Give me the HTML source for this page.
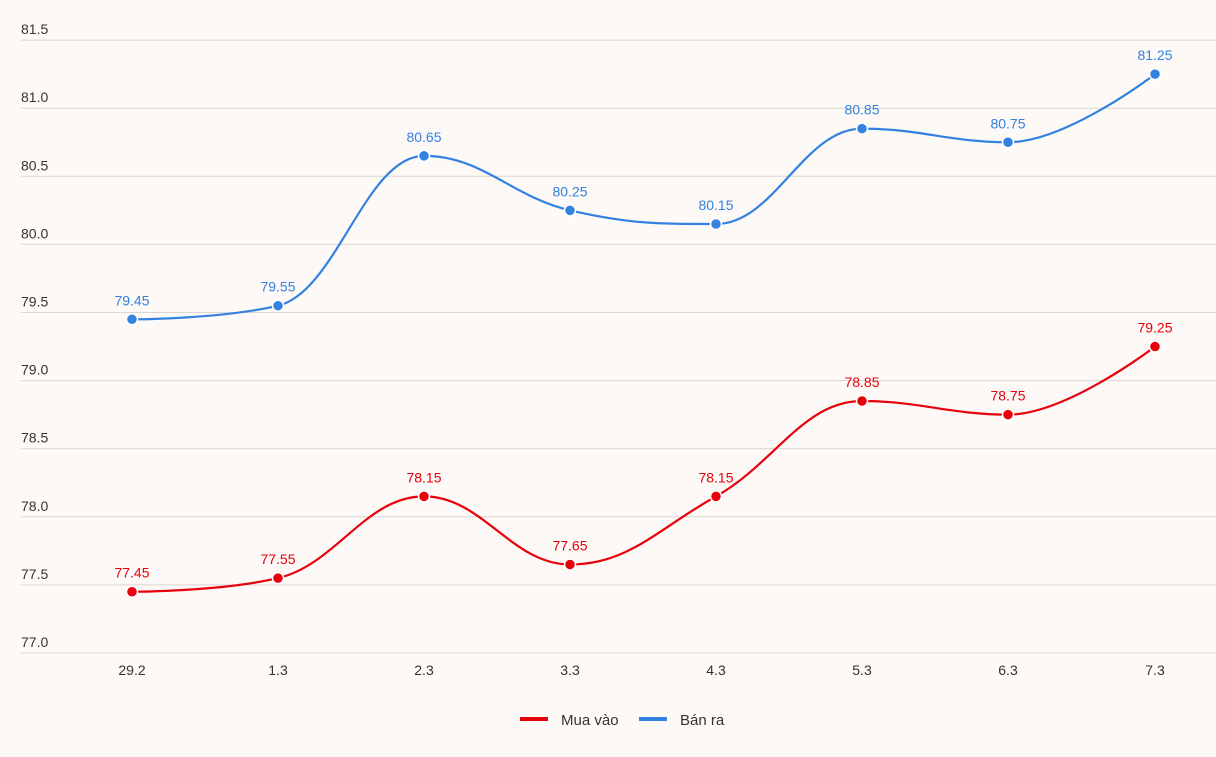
<!DOCTYPE html><html><head><meta charset="utf-8"><style>
body{margin:0;background:#fdf9f6;}
svg{display:block;font-family:"Liberation Sans",sans-serif;}
</style></head><body>
<svg id="s" width="1216" height="757" xmlns="http://www.w3.org/2000/svg">
<rect width="1216" height="757" fill="#fdf9f6"/>
<g id="grid"></g>
<g font-size="14" fill="#333" text-anchor="middle">
<text x="132" y="675">29.2</text><text x="278" y="675">1.3</text><text x="424" y="675">2.3</text><text x="570" y="675">3.3</text><text x="716" y="675">4.3</text><text x="862" y="675">5.3</text><text x="1008" y="675">6.3</text><text x="1155" y="675">7.3</text>
</g>
<g id="series"></g>
<rect x="520" y="717" width="28" height="4" fill="#e8000b"/>
<text x="561" y="725" font-size="15" fill="#333">Mua vào</text>
<rect x="639" y="717" width="28" height="4" fill="#3381e0"/>
<text x="680" y="725" font-size="15" fill="#333">Bán ra</text>
</svg>
<script>
var NS="http://www.w3.org/2000/svg",g=document.getElementById('grid'),sr=document.getElementById('series');
function Y(v){return 653-(v-77)*136.2;}
function el(p,t,a,txt){var e=document.createElementNS(NS,t);for(var k in a)e.setAttribute(k,a[k]);if(txt)e.textContent=txt;p.appendChild(e);return e;}
for(var i=0;i<10;i++){var v=77+i*0.5,y=Y(v);el(g,'line',{x1:21,x2:1216,y1:y,y2:y,stroke:'#d9d6d3','stroke-width':1});
el(g,'text',{x:21,y:y-6,'font-size':14,fill:'#333'},v.toFixed(1));}
var X=[132,278,424,570,716,862,1008,1155];
function path(vals){var P=vals.map(function(v,i){return[X[i],Y(v)]});var d='M'+P[0][0]+' '+P[0][1];
var ctrl=[];var s=1.5,den=2.5;
for(var i=0;i<P.length;i++){var p=P[i];if(i==0||i==P.length-1){ctrl.push(null);continue;}
var l=P[i-1],n=P[i+1];var lx=(s*p[0]+l[0])/den,ly=(s*p[1]+l[1])/den,rx=(s*p[0]+n[0])/den,ry=(s*p[1]+n[1])/den;
var c=((ry-ly)*(rx-p[0]))/(rx-lx)+p[1]-ry;ly+=c;ry+=c;
if(ly>l[1]&&ly>p[1]){ly=Math.max(l[1],p[1]);ry=2*p[1]-ly;}else if(ly<l[1]&&ly<p[1]){ly=Math.min(l[1],p[1]);ry=2*p[1]-ly;}
if(ry>n[1]&&ry>p[1]){ry=Math.max(n[1],p[1]);ly=2*p[1]-ry;}else if(ry<n[1]&&ry<p[1]){ry=Math.min(n[1],p[1]);ly=2*p[1]-ry;}
ctrl.push([lx,ly,rx,ry]);}
for(var i=1;i<P.length;i++){var a=ctrl[i-1]?[ctrl[i-1][2],ctrl[i-1][3]]:P[i-1];var b=ctrl[i]?[ctrl[i][0],ctrl[i][1]]:P[i];
d+=' C'+a[0]+' '+a[1]+' '+b[0]+' '+b[1]+' '+P[i][0]+' '+P[i][1];}return d;}
function series(vals,col){el(sr,'path',{d:path(vals),fill:'none',stroke:col,'stroke-width':2.2});
vals.forEach(function(v,i){var y=Y(v);el(sr,'circle',{cx:X[i],cy:y,r:5.5,fill:col,stroke:'#fff','stroke-width':1.5});
el(sr,'text',{x:X[i],y:y-14,'font-size':14,fill:col,'text-anchor':'middle'},v.toFixed(2));});}
series([79.45,79.55,80.65,80.25,80.15,80.85,80.75,81.25],'#3381e0');
series([77.45,77.55,78.15,77.65,78.15,78.85,78.75,79.25],'#e8000b');
</script>
</body></html>
